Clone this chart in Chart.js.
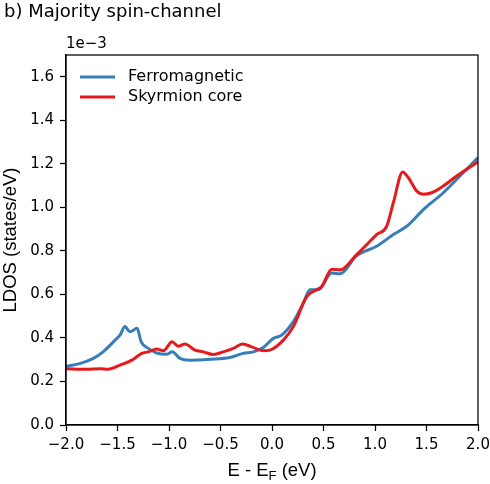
<!DOCTYPE html>
<html>
<head>
<meta charset="utf-8">
<script src="https://cdn.jsdelivr.net/npm/chart.js@4/dist/chart.umd.min.js"></script>
<style>
  html, body { margin: 0; padding: 0; background: #fff; }
  #wrap { width: 490px; height: 484px; }
</style>
</head>
<body>
<div id="wrap"><canvas id="ldos" width="490" height="484"></canvas></div>
<script>
// energies in eV, LDOS in units of 1e-3 states/eV
const ferroEnergy = [-2.0, -1.86, -1.735, -1.64, -1.54, -1.476, -1.427, -1.38, -1.31, -1.27, -1.2, -1.12, -1.02, -0.97,
  -0.893, -0.796, -0.6, -0.41, -0.28, -0.18, -0.085, 0.013, 0.094, 0.207, 0.304, 0.369, 0.45, 0.58, 0.66, 0.822,
  1.016, 1.178, 1.308, 1.47, 1.663, 1.825, 2.0];
const ferroLdos = [0.27, 0.283, 0.306, 0.336, 0.382, 0.413, 0.452, 0.428, 0.444, 0.382, 0.352, 0.331, 0.325, 0.336,
  0.306, 0.298, 0.302, 0.31, 0.329, 0.336, 0.356, 0.398, 0.413, 0.475, 0.56, 0.621, 0.621, 0.698, 0.695, 0.778,
  0.821, 0.875, 0.913, 0.99, 1.067, 1.144, 1.229];

const skyrmEnergy = [-2.0, -1.8, -1.67, -1.59, -1.476, -1.36, -1.265, -1.2, -1.12, -1.055, -0.97, -0.91, -0.845, -0.748,
  -0.667, -0.57, -0.473, -0.376, -0.285, -0.197, -0.085, -0.02, 0.11, 0.207, 0.337, 0.434, 0.483, 0.58, 0.66, 0.822,
  0.903, 1.016, 1.113, 1.178, 1.269, 1.323, 1.405, 1.47, 1.55, 1.663, 1.793, 2.0];
const skyrmLdos = [0.259, 0.256, 0.259, 0.256, 0.275, 0.298, 0.329, 0.336, 0.349, 0.341, 0.382, 0.362, 0.372, 0.344,
  0.336, 0.324, 0.336, 0.352, 0.372, 0.359, 0.341, 0.344, 0.39, 0.452, 0.59, 0.621, 0.636, 0.716, 0.713, 0.783,
  0.821, 0.875, 0.913, 1.021, 1.163, 1.137, 1.075, 1.06, 1.067, 1.098, 1.144, 1.209];

const xTickValues = [-2.0, -1.5, -1.0, -0.5, 0.0, 0.5, 1.0, 1.5, 2.0];
const yTickValues = [0.0, 0.2, 0.4, 0.6, 0.8, 1.0, 1.2, 1.4, 1.6];

const seriesNames = ['Ferromagnetic', 'Skyrmion core'];
const seriesColors = ['#377eb8', '#e41a1c'];

const toPoints = (xs, ys) => xs.map((x, i) => ({ x: x, y: ys[i] }));
const fmt = v => (v < 0 ? '\u2212' : '') + Math.abs(v).toFixed(1);

Chart.defaults.font.family = '"DejaVu Sans"';
Chart.defaults.color = '#000';

// frame, offset label, legend and x title with subscript
const extras = {
  id: 'extras',
  afterDraw(chart) {
    const { ctx, chartArea: a } = chart;
    ctx.save();
    ctx.strokeStyle = '#000';
    ctx.lineWidth = 1.25;
    ctx.strokeRect(a.left, a.top, a.right - a.left, a.bottom - a.top);

    ctx.fillStyle = '#000';
    ctx.textAlign = 'left';
    ctx.textBaseline = 'middle';
    ctx.font = '15px "DejaVu Sans"';
    ctx.fillText('1e\u22123', a.left, a.top - 11);

    // legend
    ctx.font = '16px "DejaVu Sans"';
    chart.data.datasets.forEach((ds, i) => {
      const y = a.top + 22 + i * 20;
      ctx.strokeStyle = ds.borderColor;
      ctx.lineWidth = 3;
      ctx.beginPath();
      ctx.moveTo(a.left + 14, y);
      ctx.lineTo(a.left + 49, y);
      ctx.stroke();
      ctx.fillText(ds.label, a.left + 62, y);
    });

    // x axis title  E - E_F (eV)
    const big = '18.5px "Liberation Sans"', small = '13px "Liberation Sans"';
    ctx.textBaseline = 'alphabetic';
    ctx.font = big;
    const w1 = ctx.measureText('E - E').width;
    const w3 = ctx.measureText(' (eV)').width;
    ctx.font = small;
    const w2 = ctx.measureText('F').width;
    let x = (a.left + a.right) / 2 - (w1 + w2 + w3) / 2;
    const base = 476;
    ctx.font = big;
    ctx.fillText('E - E', x, base);
    x += w1;
    ctx.font = small;
    ctx.fillText('F', x, base + 4);
    x += w2;
    ctx.font = big;
    ctx.fillText(' (eV)', x, base);
    ctx.restore();
  }
};

new Chart(document.getElementById('ldos'), {
  type: 'line',
  data: {
    datasets: [
      {
        label: seriesNames[0],
        data: toPoints(ferroEnergy, ferroLdos),
        borderColor: seriesColors[0],
        backgroundColor: seriesColors[0],
        borderWidth: 3,
        pointRadius: 0,
        cubicInterpolationMode: 'monotone',
        order: 1
      },
      {
        label: seriesNames[1],
        data: toPoints(skyrmEnergy, skyrmLdos),
        borderColor: seriesColors[1],
        backgroundColor: seriesColors[1],
        borderWidth: 3,
        pointRadius: 0,
        cubicInterpolationMode: 'monotone',
        order: 0
      }
    ]
  },
  options: {
    responsive: false,
    animation: false,
    devicePixelRatio: 1,
    layout: { padding: { left: 4, right: 0, top: 0, bottom: 0 } },
    plugins: {
      legend: { display: false },
      tooltip: { enabled: false },
      title: {
        display: true,
        text: 'b) Majority spin-channel',
        align: 'start',
        color: '#000',
        font: { size: 18, weight: 'normal' },
        padding: { top: 2, bottom: 31.4 }
      }
    },
    scales: {
      x: {
        type: 'linear',
        min: -2,
        max: 2,
        afterBuildTicks: s => { s.ticks = xTickValues.map(v => ({ value: v })); },
        afterFit: s => { s.height = 59; s.paddingRight = 12; },
        grid: { drawOnChartArea: false, drawTicks: true, tickLength: 6, tickColor: '#000', tickWidth: 1.25 },
        border: { display: true, color: '#000', width: 1.25 },
        ticks: { font: { size: 15 }, padding: 5, color: '#000', maxRotation: 0, callback: v => fmt(v) }
      },
      y: {
        min: 0,
        max: 1.7,
        afterBuildTicks: s => { s.ticks = yTickValues.map(v => ({ value: v })); },
        afterFit: s => { s.width = 62; },
        grid: { drawOnChartArea: false, drawTicks: true, tickLength: 6, tickColor: '#000', tickWidth: 1.25 },
        border: { display: true, color: '#000', width: 1.25 },
        ticks: { font: { size: 15 }, padding: 6, color: '#000', callback: v => fmt(v) },
        title: {
          display: true,
          text: 'LDOS (states/eV)',
          color: '#000',
          font: { family: '"Liberation Sans"', size: 18.5, lineHeight: 0.8 },
          padding: { top: 0, bottom: 0 }
        }
      }
    }
  },
  plugins: [extras]
});
</script>
</body>
</html>
